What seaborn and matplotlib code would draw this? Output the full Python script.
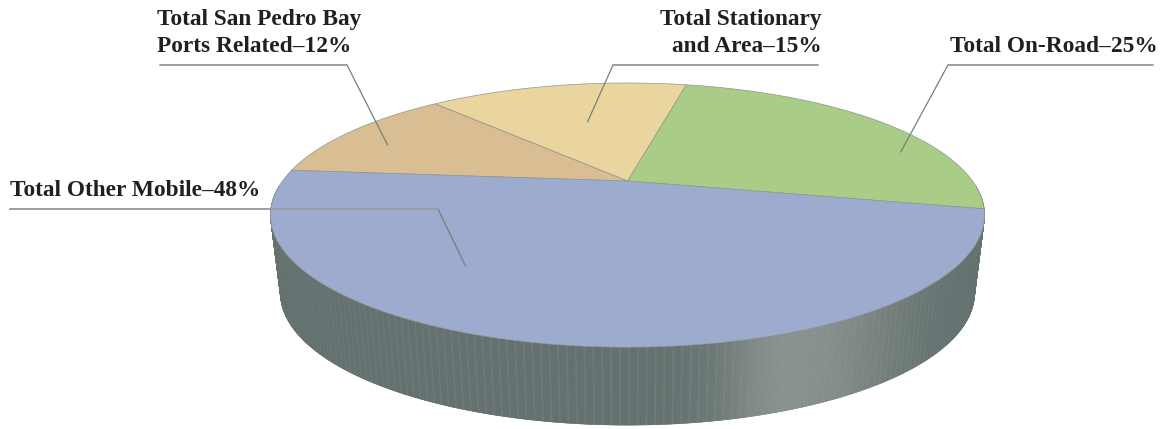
import numpy as np
import matplotlib
matplotlib.use("Agg")
import matplotlib.pyplot as plt
import seaborn as sns

# Emission shares by source category (percent)
categories = ["Total On-Road", "Total Stationary and Area",
              "Total San Pedro Bay Ports Related", "Total Other Mobile"]
shares = [25, 15, 12, 48]
colors = ["#A9CC86", "#EAD59E", "#D8BE92", "#9DABCF"]

sns.set_theme(style="white")
plt.rcParams["font.family"] = ["Liberation Serif", "DejaVu Serif"]

W, H = 1166, 429
fig = plt.figure(figsize=(W / 100, H / 100), dpi=100)
ax = fig.add_axes([0, 0, 1, 1])
ax.set_xlim(0, W)
ax.set_ylim(H, 0)
ax.axis("off")

# perspective view of a disc of radius 1
CX, CY, SX, SY, K = 627.5, 181.0, 345.0, 123.3, 0.258
DEPTH = 78.0
BOTTOM_SCALE = 0.972
START = -12.3


def project(theta_deg, r=1.0):
    t = np.radians(theta_deg)
    X, Y = r * np.cos(t), r * np.sin(t)
    d = 1 + K * Y
    return CX + SX * X / d, CY - SY * Y / d


def project_bottom(theta_deg):
    x, y = project(theta_deg)
    return CX + BOTTOM_SCALE * (x - CX), y + DEPTH


# side wall (front half), shaded with a soft highlight and faint ribs
wall_base = np.array([0x64, 0x71, 0x6E]) / 255
wall_hi = np.array([0x92, 0x9A, 0x96]) / 255
rib = np.array([0x8C, 0x98, 0xA8]) / 255
th = np.linspace(182, 358, 800)
tx_, ty_ = project(th)
bx_, by_ = project_bottom(th)
ax.fill(np.concatenate([tx_, bx_[::-1]]), np.concatenate([ty_, by_[::-1]]),
        color=wall_base, lw=0, zorder=1)
for n, (a0, a1) in enumerate(zip(th[:-1], th[1:])):
    am = 0.5 * (a0 + a1)
    sig = 9.0 if am < 291 else 19.0
    w = 0.85 * np.exp(-((am - 291) / sig) ** 2)
    c = wall_base + (wall_hi - wall_base) * w
    if n % 5 == 0:
        c = c + (rib - c) * 0.25
    x0, y0 = project(a0)
    x1, y1 = project(a1)
    bx0, by0 = project_bottom(a0)
    bx1, by1 = project_bottom(a1)
    ax.fill([x0, x1, bx1, bx0], [y0, y1, by1, by0],
            color=c, lw=0.3, ec=c, zorder=1.5)

# top face wedges
bounds = START + np.concatenate([[0], np.cumsum(shares)]) * 3.6
for i, col in enumerate(colors):
    a = np.linspace(bounds[i], bounds[i + 1], 200)
    xs, ys = project(a)
    px = np.concatenate([[CX], xs, [CX]])
    py = np.concatenate([[CY], ys, [CY]])
    ax.fill(px, py, color=col, ec="#8f9592", lw=0.5, zorder=2)

# leader lines and labels
line_col = "#75807e"
txt_col = "#231F20"
fs = 16.8
# (wedge fraction, radius, elbow xy, horizontal end x)
leaders = [
    (0.32, 0.879, (948, 65), 1153),
    (0.48, 0.562, (613, 65), 818),
    (0.59, 0.816, (347, 65), 160),
    (0.352, 0.708, (438, 209), 10),
]
for i, (frac, rad, (ex, ey), hx) in enumerate(leaders):
    ang = bounds[i] + frac * (bounds[i + 1] - bounds[i])
    tx, ty = project(ang, rad)
    ax.plot([tx, ex], [ty, ey], color=line_col, lw=0.9, zorder=3)
    ax.plot([ex, hx], [ey, ey], color="#9aa09e", lw=1.4, zorder=3)

label_lines = [
    (1158, [f"{categories[0]}–{shares[0]}%"], "right"),
    (822, ["Total Stationary", f"and Area–{shares[1]}%"], "right"),
    (157, ["Total San Pedro Bay", f"Ports Related–{shares[2]}%"], "left"),
]
for x, lines, ha in label_lines:
    n = len(lines)
    for j, s in enumerate(lines):
        y = 52 - 27 * (n - 1 - j)
        ax.text(x, y, s, ha=ha, va="baseline", fontsize=fs,
                fontweight="bold", color=txt_col, zorder=4)
ax.text(10, 196, f"{categories[3]}–{shares[3]}%", ha="left", va="baseline",
        fontsize=fs, fontweight="bold", color=txt_col, zorder=4)

fig.savefig("out.png", dpi=100, facecolor="white")
